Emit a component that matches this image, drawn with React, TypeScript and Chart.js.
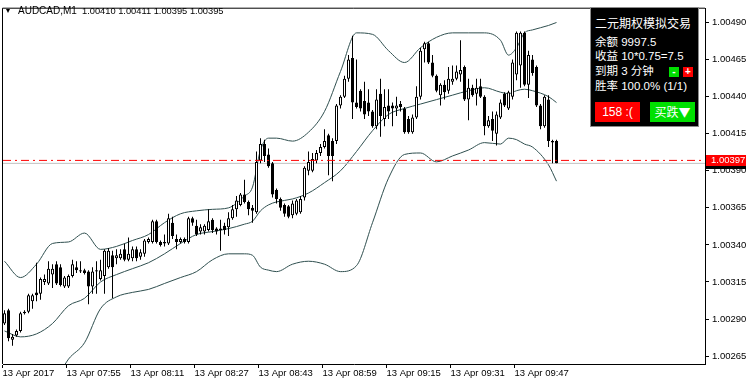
import React, { useEffect, useRef } from 'react';
import { Chart, registerables } from 'chart.js';

Chart.register(...registerables);

// ---- data ----
const symbolTitle = 'AUDCAD,M1';
const lastQuote = ['1.00410', '1.00411', '1.00395', '1.00395'];

const timeLabels = [
  '13 Apr 2017', '13 Apr 07:55', '13 Apr 08:11', '13 Apr 08:27', '13 Apr 08:43',
  '13 Apr 08:59', '13 Apr 09:15', '13 Apr 09:31', '13 Apr 09:47',
];
const barsPerLabel = 16;

const priceTicks = [1.00265, 1.0029, 1.00315, 1.0034, 1.00365, 1.0039, 1.00415, 1.0044, 1.00465, 1.0049];

const openP = [
  1.00287, 1.00296, 1.00276, 1.00279, 1.00282, 1.00295, 1.00295, 1.00302, 1.00308, 1.00307,
  1.00315, 1.00314, 1.0032, 1.00327, 1.00325, 1.00312, 1.00312, 1.00319, 1.00325, 1.00323,
  1.00323, 1.00322, 1.00312, 1.00322, 1.00317, 1.00319, 1.00325, 1.00333, 1.00331, 1.00331,
  1.00337, 1.0033, 1.00331, 1.00337, 1.00332, 1.00334, 1.00342, 1.00342, 1.00356, 1.00342,
  1.00341, 1.00341, 1.00355, 1.00344, 1.00342, 1.00344, 1.00342, 1.00358, 1.00353, 1.00349,
  1.00349, 1.0035, 1.00357, 1.00351, 1.00351, 1.00353, 1.00352, 1.00358, 1.00364, 1.00367,
  1.00374, 1.00369, 1.00365, 1.00362, 1.00397, 1.00408, 1.00401, 1.00395, 1.00377, 1.00371,
  1.00367, 1.00366, 1.0036, 1.00361, 1.00362, 1.00372, 1.0039, 1.0039, 1.00397, 1.00402,
  1.00406, 1.00414, 1.0041, 1.0041, 1.00434, 1.0044, 1.00452, 1.00466, 1.00436, 1.00444,
  1.00437, 1.00436, 1.0043, 1.0042, 1.00442, 1.00425, 1.00434, 1.00434, 1.00432, 1.00435,
  1.00432, 1.00425, 1.00416, 1.00426, 1.0044, 1.00472, 1.00476, 1.00463, 1.00454, 1.00441,
  1.00448, 1.00444, 1.0045, 1.00452, 1.00455, 1.0046, 1.00438, 1.00446, 1.00442, 1.00447,
  1.0044, 1.0042, 1.00425, 1.00415, 1.00426, 1.00442, 1.00432, 1.0044, 1.00455, 1.00461,
  1.00483, 1.00448, 1.00465, 1.0046, 1.00434, 1.0042, 1.00438, 1.0041, 1.0041,
];
const highP = [
  1.00296, 1.00297, 1.0028, 1.00283, 1.00295, 1.00296, 1.00307, 1.00307, 1.00328, 1.00318,
  1.0032, 1.00329, 1.00327, 1.00329, 1.00327, 1.00319, 1.0032, 1.0033, 1.00329, 1.00329,
  1.00324, 1.00323, 1.00325, 1.00329, 1.0033, 1.00337, 1.00338, 1.00336, 1.00337, 1.00337,
  1.00341, 1.00345, 1.00339, 1.00339, 1.00337, 1.00344, 1.00345, 1.00357, 1.00357, 1.00343,
  1.00347, 1.00361, 1.00359, 1.00347, 1.00345, 1.00345, 1.00359, 1.00359, 1.00357, 1.00354,
  1.00354, 1.00364, 1.00358, 1.00352, 1.00357, 1.00355, 1.00362, 1.00367, 1.00373, 1.00375,
  1.00384, 1.0037, 1.00367, 1.00403, 1.00412, 1.00411, 1.00405, 1.00396, 1.00378, 1.00372,
  1.00368, 1.00367, 1.0037, 1.00371, 1.00373, 1.00393, 1.00403, 1.00402, 1.00404, 1.00408,
  1.00418, 1.00415, 1.00412, 1.00435, 1.00441, 1.00454, 1.00468, 1.00481, 1.00465, 1.00445,
  1.0045, 1.00445, 1.00431, 1.00445, 1.00452, 1.00445, 1.00445, 1.00436, 1.0044, 1.00437,
  1.00433, 1.00427, 1.00428, 1.00447, 1.00473, 1.00477, 1.00477, 1.00468, 1.00455, 1.00449,
  1.00451, 1.0046, 1.00461, 1.00461, 1.00478, 1.00461, 1.00452, 1.00448, 1.00452, 1.00452,
  1.00441, 1.00427, 1.0043, 1.0043, 1.00438, 1.00443, 1.00444, 1.00465, 1.00484, 1.00484,
  1.00484, 1.00471, 1.00468, 1.00461, 1.00435, 1.00441, 1.00441, 1.00411, 1.00411,
];
const lowP = [
  1.00286, 1.00275, 1.00272, 1.00278, 1.00281, 1.00293, 1.00294, 1.00297, 1.00302, 1.00303,
  1.00313, 1.00313, 1.00311, 1.00313, 1.00312, 1.00311, 1.00311, 1.00318, 1.00321, 1.00321,
  1.0032, 1.003, 1.00307, 1.00307, 1.00316, 1.00307, 1.00324, 1.00304, 1.00327, 1.0033,
  1.00329, 1.00329, 1.00329, 1.00329, 1.0033, 1.00332, 1.00341, 1.00341, 1.00341, 1.00339,
  1.00339, 1.0034, 1.00344, 1.00337, 1.00341, 1.00341, 1.00341, 1.00353, 1.00346, 1.00347,
  1.00347, 1.00349, 1.00348, 1.00347, 1.00336, 1.00347, 1.00346, 1.00357, 1.00359, 1.00366,
  1.00368, 1.0036, 1.00355, 1.00361, 1.00395, 1.00396, 1.00392, 1.00372, 1.00368, 1.00363,
  1.00359, 1.00358, 1.00358, 1.0036, 1.00361, 1.0037, 1.00387, 1.00389, 1.00395, 1.004,
  1.00405, 1.00387, 1.00383, 1.00408, 1.00432, 1.00439, 1.0045, 1.00425, 1.00432, 1.0043,
  1.00425, 1.00427, 1.00419, 1.00418, 1.00413, 1.0042, 1.00425, 1.0042, 1.00427, 1.0043,
  1.00415, 1.00415, 1.00415, 1.00425, 1.00438, 1.00463, 1.00462, 1.00453, 1.00443, 1.00434,
  1.00438, 1.00442, 1.00448, 1.00451, 1.0045, 1.00437, 1.00424, 1.0044, 1.00434, 1.00439,
  1.00414, 1.00419, 1.0041, 1.00407, 1.00425, 1.00433, 1.00431, 1.00438, 1.00451, 1.00446,
  1.00447, 1.00439, 1.00454, 1.00433, 1.00418, 1.00419, 1.00406, 1.00395, 1.00395,
];
const closeP = [
  1.00294, 1.00277, 1.00278, 1.00282, 1.00294, 1.00294, 1.00306, 1.00306, 1.00306, 1.00317,
  1.00317, 1.00324, 1.00324, 1.00314, 1.00313, 1.00318, 1.00319, 1.00327, 1.00323, 1.00322,
  1.00321, 1.00312, 1.00322, 1.00323, 1.00323, 1.00336, 1.00336, 1.00325, 1.00333, 1.00334,
  1.0033, 1.00334, 1.00337, 1.00331, 1.00335, 1.00343, 1.00344, 1.00356, 1.00342, 1.0034,
  1.00342, 1.00358, 1.00346, 1.00342, 1.00344, 1.00342, 1.00358, 1.00355, 1.00347, 1.00352,
  1.00353, 1.00356, 1.0035, 1.00349, 1.0035, 1.0035, 1.00358, 1.00364, 1.0037, 1.00374,
  1.00369, 1.00364, 1.00363, 1.00396, 1.00408, 1.004, 1.00393, 1.00374, 1.00371, 1.00365,
  1.00361, 1.00359, 1.00368, 1.0037, 1.00371, 1.00392, 1.00396, 1.00398, 1.00402, 1.00406,
  1.0041, 1.004, 1.004, 1.00434, 1.0044, 1.00452, 1.00465, 1.00436, 1.00433, 1.00432,
  1.00428, 1.0043, 1.0042, 1.00438, 1.00427, 1.00433, 1.0043, 1.00432, 1.00434, 1.00433,
  1.00416, 1.00416, 1.00426, 1.0044, 1.00471, 1.00476, 1.00463, 1.00454, 1.00444, 1.00448,
  1.00443, 1.00452, 1.00452, 1.00457, 1.00458, 1.00438, 1.00446, 1.00441, 1.00446, 1.0044,
  1.0042, 1.00424, 1.00417, 1.00428, 1.00436, 1.00434, 1.00443, 1.00463, 1.00483, 1.00483,
  1.00448, 1.00468, 1.00456, 1.00434, 1.0042, 1.0044, 1.0041, 1.00409, 1.00395,
];

// Bollinger band readings, taken at these bar numbers
const bandBars = [0, 4, 8, 12, 16, 20, 24, 28, 32, 36, 40, 44, 48, 52, 56, 60, 62, 64, 66, 68, 72, 76, 80, 84, 88, 92, 96, 100, 104, 108, 112, 116, 120, 124, 126, 128, 130, 132, 136, 138];
const bandUpper = [
  1.00329, 1.00318, 1.00327, 1.00341, 1.00342, 1.00348, 1.00337, 1.00339, 1.00343, 1.00347,
  1.00355, 1.00361, 1.00363, 1.00364, 1.00365, 1.00373, 1.00379, 1.00404, 1.00412, 1.00412,
  1.0041, 1.00416, 1.0043, 1.00457, 1.00483, 1.00482, 1.00471, 1.00463, 1.00473, 1.0048,
  1.00483, 1.00483, 1.00483, 1.00478, 1.00468, 1.00473, 1.00483, 1.00485, 1.00488, 1.0049,
];
const bandMiddle = [
  1.00282, 1.00278, 1.0028, 1.00287, 1.00299, 1.00304, 1.00315, 1.0032, 1.00324, 1.00328,
  1.00334, 1.00341, 1.00347, 1.00349, 1.00351, 1.00354, 1.00356, 1.00363, 1.00367, 1.00369,
  1.00371, 1.00375, 1.00382, 1.0039, 1.00403, 1.00417, 1.00428, 1.00432, 1.00435, 1.00438,
  1.00441, 1.00444, 1.00446, 1.00443, 1.00442, 1.00444, 1.00445, 1.00444, 1.0044, 1.00436,
];
const bandLower = [
  1.00239, 1.00239, 1.00236, 1.00246, 1.00263, 1.00274, 1.00297, 1.00305, 1.00308, 1.0031,
  1.00314, 1.00318, 1.00322, 1.0033, 1.00334, 1.00334, 1.00333, 1.00325, 1.00323, 1.00322,
  1.00327, 1.00329, 1.00327, 1.00322, 1.00326, 1.00355, 1.00385, 1.00401, 1.00402, 1.00396,
  1.004, 1.00404, 1.00409, 1.00408, 1.00412, 1.00411, 1.00408, 1.00406, 1.00394, 1.00383,
];

const alertLevel = 1.00397;
const bidLevel = 1.00395;

const panelTitle = '二元期权模拟交易';
const panelLines = ['余额 9997.5', '收益 10*0.75=7.5', '到期 3 分钟', '胜率 100.0% (1/1)'];
const lossButton = '158 :(';
const sellButton = '买跌▼';

// ---- axis layout ----
const X_MIN = -0.375;
const X_MAX = 175.125;
const Y_MIN = 1.002597;
const Y_MAX = 1.004993;
const FONT = '"Liberation Sans", Arial, sans-serif';

const framePlugin = {
  id: 'frameAndPriceTags',
  afterDraw(chart: any) {
    const { ctx, chartArea: a } = chart;
    ctx.save();
    ctx.strokeStyle = '#000';
    ctx.lineWidth = 1;
    ctx.beginPath();
    ctx.moveTo(a.left - 0.5, a.bottom);
    ctx.lineTo(a.left - 0.5, a.top - 0.5);
    ctx.lineTo(a.right, a.top - 0.5);
    ctx.stroke();
    const ys = chart.scales.y;
    const tag = (v: number, bg: string) => {
      const y = Math.round(ys.getPixelForValue(v));
      ctx.fillStyle = bg;
      ctx.fillRect(a.right + 1, y - 5, chart.width - a.right - 1, 11);
      ctx.fillStyle = '#fff';
      ctx.font = '9.5px ' + FONT;
      ctx.textBaseline = 'middle';
      ctx.textAlign = 'left';
      ctx.fillText(v.toFixed(5), a.right + 6, y + 0.5);
    };
    tag(bidLevel, '#000');
    tag(alertLevel, '#ff0000');
    ctx.restore();
  },
};

export default function App() {
  const ref = useRef<HTMLCanvasElement>(null);

  useEffect(() => {
    document.body.style.margin = '0';
    const canvas = ref.current;
    if (!canvas) return;
    const idx = closeP.map((_, i) => i);
    const band = (vals: number[]) => bandBars.map((b, k) => ({ x: b, y: vals[k] }));
    const bandStyle = {
      type: 'line' as const,
      borderColor: '#2f4f4f',
      borderWidth: 1,
      pointRadius: 0,
      cubicInterpolationMode: 'monotone' as const,
      order: 6,
    };
    const chart = new Chart(canvas, {
      type: 'bar',
      data: {
        datasets: [
          { ...bandStyle, label: 'upper', data: band(bandUpper) },
          { ...bandStyle, label: 'middle', data: band(bandMiddle) },
          { ...bandStyle, label: 'lower', data: band(bandLower) },
          {
            type: 'line', label: 'bid', order: 5,
            data: [{ x: X_MIN, y: bidLevel }, { x: X_MAX, y: bidLevel }],
            borderColor: '#c0c0c0', borderWidth: 1, pointRadius: 0,
          },
          {
            type: 'bar', label: 'wick', order: 2,
            data: idx.map((i) => ({ x: i, y: [lowP[i], highP[i]] })),
            barThickness: 1, backgroundColor: '#000', grouped: false, inflateAmount: 0,
          } as any,
          {
            type: 'bar', label: 'body', order: 1,
            data: idx.map((i) => ({ x: i, y: [openP[i], closeP[i]] })),
            barThickness: 3,
            backgroundColor: idx.map((i) => (closeP[i] >= openP[i] ? '#ffffff' : '#000000')),
            borderColor: '#000', borderWidth: 1, borderSkipped: false,
            grouped: false, inflateAmount: 0,
          } as any,
          {
            type: 'line', label: 'alert', order: 0,
            data: [{ x: X_MIN, y: alertLevel }, { x: X_MAX, y: alertLevel }],
            borderColor: '#ff0000', borderWidth: 1, pointRadius: 0, borderDash: [8, 4, 2, 4],
          },
        ],
      },
      options: {
        animation: false,
        responsive: false,
        events: [],
        layout: { padding: { left: 3, top: 3, right: 0, bottom: 0 } },
        plugins: { legend: { display: false }, tooltip: { enabled: false }, title: { display: false } },
        scales: {
          x: {
            type: 'linear', min: X_MIN, max: X_MAX, offset: false,
            afterBuildTicks: (ax: any) => {
              ax.ticks = timeLabels.map((_, k) => ({ value: k * barsPerLabel - 0.5 }));
            },
            afterFit: (ax: any) => { ax.height = 18; },
            ticks: {
              autoSkip: false, maxRotation: 0, minRotation: 0, align: 'start', padding: 0,
              color: '#000', font: { family: FONT, size: 9.5 },
              callback: (_v: any, i: number) => timeLabels[i],
            },
            grid: { display: true, drawOnChartArea: false, drawTicks: true, tickLength: 4, color: '#000', offset: false },
            border: { display: true, color: '#000' },
          },
          y: {
            type: 'linear', position: 'right', min: Y_MIN, max: Y_MAX,
            afterBuildTicks: (ax: any) => { ax.ticks = priceTicks.map((v) => ({ value: v })); },
            afterFit: (ax: any) => { ax.width = 41; },
            ticks: {
              padding: 3, color: '#000', font: { family: FONT, size: 9.5 },
              callback: (v: any) => Number(v).toFixed(5),
            },
            grid: { drawOnChartArea: false, drawTicks: true, tickLength: 4, color: '#000' },
            border: { display: true, color: '#000' },
          },
        },
      } as any,
      plugins: [framePlugin],
    });
    return () => chart.destroy();
  }, []);

  const cjk = '"Liberation Sans", "Noto Sans CJK SC", sans-serif';
  const lineTops = [27, 41, 56, 71];

  return (
    <div style={{ position: 'fixed', left: 0, top: 0, width: 746, height: 382, background: '#fff', overflow: 'hidden' }}>
      <canvas ref={ref} width={746} height={382} style={{ position: 'absolute', left: 0, top: 0 }} />
      <div style={{ position: 'absolute', left: 6, top: 9, width: 0, height: 0, borderLeft: '2.5px solid transparent', borderRight: '2.5px solid transparent', borderTop: '4px solid #000' }} />
      <div style={{ position: 'absolute', left: 18, top: 5, font: '10px ' + FONT, lineHeight: '12px', color: '#000', whiteSpace: 'nowrap' }}>{symbolTitle}</div>
      <div style={{ position: 'absolute', left: 82, top: 5, font: '9.3px ' + FONT, lineHeight: '12px', color: '#000', whiteSpace: 'nowrap' }}>{lastQuote.join(' ')}</div>

      <div style={{ position: 'absolute', left: 590, top: 7, width: 109, height: 120, boxSizing: 'border-box', background: '#000', border: '1px solid #8c8c8c', color: '#fff', fontFamily: cjk, fontSize: 11.5 }}>
        <div style={{ position: 'absolute', left: 4, top: 8, fontSize: 12, lineHeight: '14px', whiteSpace: 'nowrap', fontFamily: '"Noto Sans CJK SC", sans-serif' }}>{panelTitle}</div>
        {panelLines.map((t, k) => (
          <div key={k} style={{ position: 'absolute', left: 4, top: lineTops[k], lineHeight: '14px', whiteSpace: 'nowrap' }}>{t}</div>
        ))}
        <div style={{ position: 'absolute', left: 78, top: 59, width: 10, height: 10, background: '#00e000', color: '#fff', fontSize: 10, lineHeight: '10px', textAlign: 'center', fontWeight: 'bold' }}>-</div>
        <div style={{ position: 'absolute', left: 92, top: 59, width: 10, height: 10, background: '#ff0000', color: '#fff', fontSize: 10, lineHeight: '10px', textAlign: 'center', fontWeight: 'bold' }}>+</div>
        <div style={{ position: 'absolute', left: 4, top: 94, width: 45, height: 20, background: '#ff0000', color: '#fff', fontSize: 12, lineHeight: '20px', textAlign: 'center', whiteSpace: 'nowrap' }}>{lossButton}</div>
        <div style={{ position: 'absolute', left: 59, top: 94, width: 45, height: 20, background: '#00e000', color: '#fff', fontSize: 12, lineHeight: '20px', textAlign: 'center', whiteSpace: 'nowrap', fontFamily: '"Noto Sans CJK SC", sans-serif' }}>{sellButton}</div>
      </div>
    </div>
  );
}
